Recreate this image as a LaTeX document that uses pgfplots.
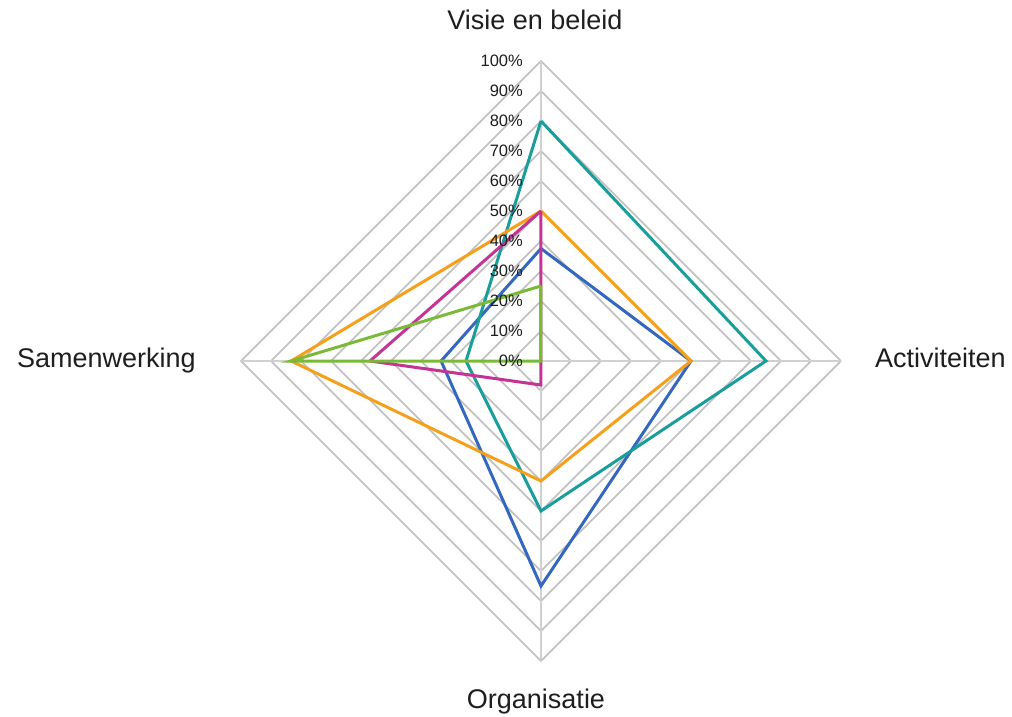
\documentclass[border=0pt]{standalone}
\usepackage{fontspec}
\setmainfont{Liberation Sans}
\usepackage{pgfplots}
\pgfplotsset{compat=1.18}
\usepgfplotslibrary{polar}
\definecolor{gridgray}{RGB}{190,190,190}
\definecolor{spokegray}{RGB}{208,208,208}
\definecolor{cteal}{RGB}{26,158,156}
\definecolor{cblue}{RGB}{52,104,190}
\definecolor{corange}{RGB}{245,160,28}
\definecolor{cmagenta}{RGB}{196,52,150}
\definecolor{cgreen}{RGB}{122,186,56}
\definecolor{txt}{RGB}{30,30,30}
\begin{document}
\begin{tikzpicture}
\path[use as bounding box] (-541pt,-356pt) rectangle (471pt,361pt);
\begin{polaraxis}[
  at={(0,0)}, anchor=center,
  scale only axis, width=600pt, height=600pt,
  ymin=0, ymax=100,
  hide axis, clip=false,
  every axis plot/.append style={line join=miter, mark=none},
]
% grid diamonds
\pgfplotsinvokeforeach{10,20,30,40,50,60,70,80,90,100}{
  \addplot[gridgray, line width=1.6pt] coordinates {(0,#1) (90,#1) (180,#1) (270,#1) (0,#1)};
}
% spokes
\addplot[spokegray, line width=2.6pt] coordinates {(90,0) (90,100)};
\addplot[spokegray, line width=2.6pt] coordinates {(270,0) (270,100)};
\addplot[spokegray, line width=2.6pt] coordinates {(0,0) (0,100)};
\addplot[spokegray, line width=2.6pt] coordinates {(180,0) (180,100)};
% series: (angle, value): 90=Visie en beleid, 0=Activiteiten, 270=Organisatie, 180=Samenwerking
\addplot[cblue, line width=3pt] coordinates {(90,37.5) (0,50) (270,75) (180,33.3) (90,37.5)};
\addplot[cteal, line width=3pt] coordinates {(90,80) (0,75) (270,50) (180,25) (90,80)};
\addplot[corange, line width=3pt] coordinates {(90,50) (0,50) (270,40) (180,83.3) (90,50)};
\addplot[cmagenta, line width=3pt] coordinates {(90,50) (0,0) (270,8) (180,57) (90,50)};
\addplot[cgreen, line width=3pt] coordinates {(90,25) (0,0) (270,0) (180,83.3) (90,25)};
% radial tick labels
\pgfplotsinvokeforeach{0,10,20,30,40,50,60,70,80,90,100}{
  \node[anchor=east, inner sep=0pt, xshift=-18pt, font=\fontsize{16.5}{18}\selectfont, text=txt] at (axis cs:90,#1) {#1\%};
}
% category labels
\node[anchor=base, inner sep=0pt, xshift=-6pt, yshift=31pt, font=\fontsize{27}{30}\selectfont, text=txt] at (axis cs:90,100) {Visie en beleid};
\node[anchor=base west, inner sep=0pt, xshift=34pt, yshift=-6pt, font=\fontsize{27}{30}\selectfont, text=txt] at (axis cs:0,100) {Activiteiten};
\node[anchor=base, inner sep=0pt, xshift=-5pt, yshift=-47pt, font=\fontsize{27}{30}\selectfont, text=txt] at (axis cs:270,100) {Organisatie};
\node[anchor=base east, inner sep=0pt, xshift=-45pt, yshift=-6pt, font=\fontsize{27}{30}\selectfont, text=txt] at (axis cs:180,100) {Samenwerking};
\end{polaraxis}
\end{tikzpicture}
\end{document}
